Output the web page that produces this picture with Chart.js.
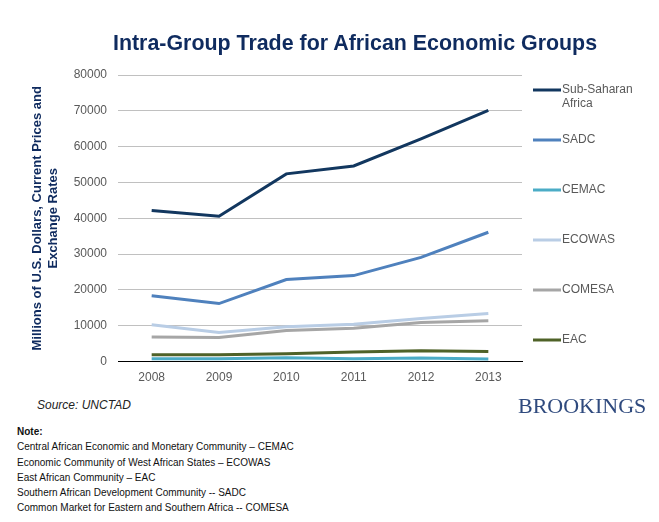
<!DOCTYPE html>
<html>
<head>
<meta charset="utf-8">
<script src="https://cdn.jsdelivr.net/npm/chart.js@4.4.1/dist/chart.umd.min.js"></script>
<style>
  html, body { margin: 0; padding: 0; background: #fff; }
  #wrap { position: relative; width: 659px; height: 522px; overflow: hidden; font-family: "Liberation Sans", Arial, sans-serif; }
  #cv { position: absolute; left: 0; top: 0; }
  #title { position: absolute; left: 100px; top: 31px; width: 510px; text-align: center; font: bold 21.4px "Liberation Sans", Arial, sans-serif; color: #0f2b5f; white-space: nowrap; }
  #source { position: absolute; left: 37px; top: 398px; font: italic 12px "Liberation Sans", Arial, sans-serif; color: #222; }
  #brook { position: absolute; left: 518px; top: 393px; font: 22px "Liberation Serif", "Times New Roman", serif; color: #2f4a7e; }
  #note { position: absolute; left: 17px; top: 424px; font: 10px "Liberation Sans", Arial, sans-serif; color: #111; line-height: 15.3px; }
  #note b { font-weight: bold; }
</style>
</head>
<body>
<div id="wrap">
  <canvas id="cv" width="659" height="394"></canvas>
  <div id="title">Intra-Group Trade for African Economic Groups</div>
  <div id="source">Source: UNCTAD</div>
  <div id="brook">BROOKINGS</div>
  <div id="note"><b>Note:</b><br>Central African Economic and Monetary Community – CEMAC<br>Economic Community of West African States – ECOWAS<br>East African Community – EAC<br>Southern African Development Community -- SADC<br>Common Market for Eastern and Southern Africa -- COMESA</div>
</div>
<script>
const years = ["2008", "2009", "2010", "2011", "2012", "2013"];
const seriesNames = ["Sub-Saharan Africa", "SADC", "CEMAC", "ECOWAS", "COMESA", "EAC"];
const subSaharan = [42200, 40600, 52400, 54600, 62200, 70100];
const sadc = [18400, 16200, 22900, 24000, 29100, 36100];
const cemac = [800, 800, 1100, 800, 1000, 700];
const ecowas = [10300, 8100, 9700, 10400, 12000, 13400];
const comesa = [6900, 6700, 8700, 9300, 10900, 11400];
const eac = [1900, 1900, 2200, 2700, 3000, 2800];
const yTicks = [0, 10000, 20000, 30000, 40000, 50000, 60000, 70000, 80000];
const colors = ["#12375f", "#4f81bd", "#4bacc6", "#b9cde5", "#a6a6a6", "#4f6228"];
const values = [subSaharan, sadc, cemac, ecowas, comesa, eac];

const datasets = seriesNames.map((n, i) => ({
  label: n,
  data: values[i],
  borderColor: colors[i],
  backgroundColor: colors[i],
  borderWidth: 3,
  pointRadius: 0,
  tension: 0,
  order: i === 2 ? 6 : i
}));

const sideLegend = {
  id: 'sideLegend',
  afterDraw(chart) {
    const ctx = chart.ctx;
    const top = chart.chartArea.top;
    ctx.save();
    ctx.font = '12px "Liberation Sans", Arial, sans-serif';
    ctx.textBaseline = 'middle';
    ctx.fillStyle = '#595959';
    seriesNames.forEach((n, i) => {
      const y = top + 15 + i * 50;
      ctx.strokeStyle = colors[i];
      ctx.lineWidth = 3;
      ctx.beginPath();
      ctx.moveTo(533, y);
      ctx.lineTo(561, y);
      ctx.stroke();
      if (n === "Sub-Saharan Africa") {
        ctx.fillText("Sub-Saharan", 562, y);
        ctx.fillText("Africa", 562, y + 14);
      } else {
        ctx.fillText(n, 562, y);
      }
    });
    ctx.restore();
  }
};

new Chart(document.getElementById('cv'), {
  type: 'line',
  data: { labels: years, datasets },
  options: {
    responsive: false,
    animation: false,
    layout: { padding: { top: 75, right: 137, bottom: 0, left: 0 } },
    plugins: { legend: { display: false }, title: { display: false }, tooltip: { enabled: false } },
    scales: {
      x: {
        offset: true,
        grid: { display: false, drawTicks: false },
        border: { display: true, color: '#000', width: 1 },
        ticks: { color: '#595959', font: { family: '"Liberation Sans", Arial, sans-serif', size: 12 }, padding: 9 }
      },
      y: {
        min: 0, max: 80000,
        afterBuildTicks(axis) { axis.ticks = yTicks.map(v => ({ value: v })); },
        afterFit(axis) { axis.width = 118; },
        grid: { color: '#c0c0c0', lineWidth: 1, drawTicks: false },
        border: { display: false },
        ticks: { color: '#595959', font: { family: '"Liberation Sans", Arial, sans-serif', size: 12 }, padding: 11,
                 callback: (v) => String(v) },
        title: {
          display: true,
          text: ["Millions of U.S. Dollars, Current Prices and", "Exchange Rates"],
          color: '#0f2b5f',
          font: { family: '"Liberation Sans", Arial, sans-serif', size: 13, weight: 'bold', lineHeight: 1.25 },
          padding: { top: 29, bottom: 0 }
        }
      }
    }
  },
  plugins: [sideLegend]
});
</script>
</body>
</html>
